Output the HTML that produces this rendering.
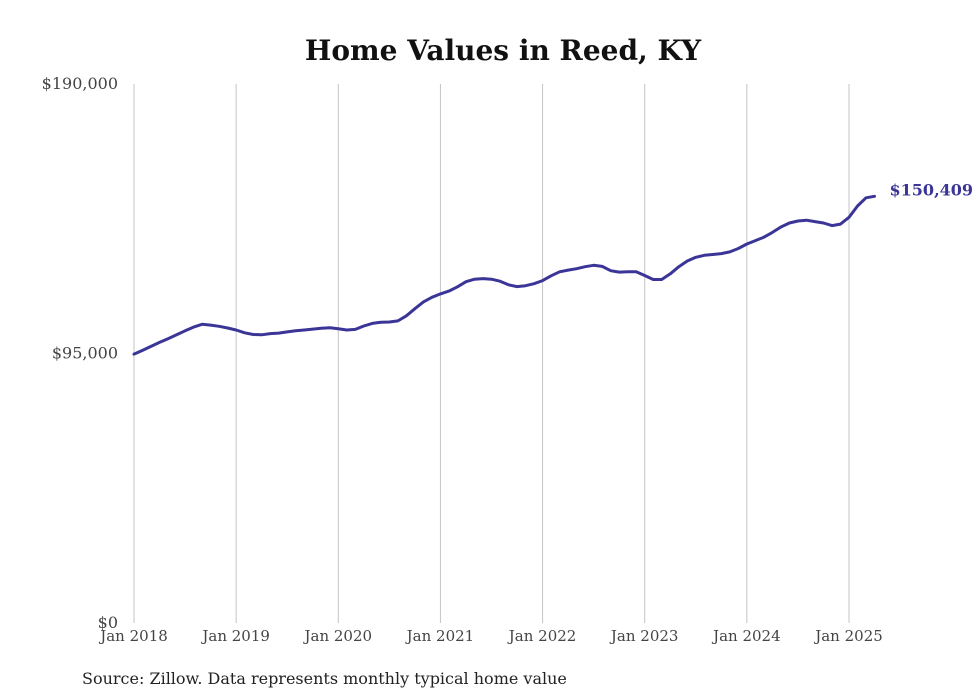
<!DOCTYPE html>
<html><head><meta charset="utf-8"><style>
body{margin:0;background:#fff;width:980px;height:699px;overflow:hidden}
svg{display:block}
</style></head><body>
<svg width="980" height="699" xmlns="http://www.w3.org/2000/svg">
<text x="503" y="60" text-anchor="middle" font-family="'DejaVu Serif','Liberation Serif',serif" font-weight="bold" font-size="28" fill="#111">Home Values in Reed, KY</text>
<g id="grid"></g><g id="yaxis"></g><g id="xaxis"></g>
<path id="line" fill="none" stroke="#3b3598" stroke-width="3" stroke-linejoin="round" stroke-linecap="round"></path>
<text id="endlabel" font-family="'DejaVu Serif','Liberation Serif',serif" font-weight="bold" font-size="16" fill="#3b3598"></text>
<text x="82" y="684" font-family="'DejaVu Serif','Liberation Serif',serif" font-size="16" fill="#222">Source: Zillow. Data represents monthly typical home value</text>
</svg>
<script>
const yTicks=[0,95000,190000];
const yTickLabels=["$0","$95,000","$190,000"];
const xYears=[2018,2019,2020,2021,2022,2023,2024,2025];
const xTickLabels=["Jan 2018","Jan 2019","Jan 2020","Jan 2021","Jan 2022","Jan 2023","Jan 2024","Jan 2025"];
const values=[
94.8,96.1,97.5,98.9,100.2,101.6,103,104.3,105.3,105,104.6,104,
103.3,102.3,101.7,101.6,102,102.2,102.6,103,103.3,103.6,103.9,104.1,
103.7,103.3,103.5,104.7,105.6,106,106.1,106.5,108.3,110.8,113.2,114.8,
116,117,118.5,120.3,121.2,121.4,121.2,120.5,119.2,118.6,118.9,119.6,
120.7,122.4,123.8,124.4,124.9,125.6,126.1,125.7,124.2,123.7,123.8,123.8,
122.5,121.1,121.1,123.1,125.6,127.6,128.9,129.6,129.9,130.2,130.8,132,
133.6,134.8,136,137.7,139.6,141,141.7,142,141.5,141,140.1,140.6,
143,147,149.9,150.409].map(v=>v*1000);
const lastLabel="$150,409";
const NS="http://www.w3.org/2000/svg";
const y=v=>623-v/190000*539;
const x=m=>134+m*(715/84);
const grid=document.getElementById('grid'),ya=document.getElementById('yaxis'),xa=document.getElementById('xaxis');
xYears.forEach((yr,i)=>{
 const l=document.createElementNS(NS,'line');
 const xx=x((yr-2018)*12);
 l.setAttribute('x1',xx);l.setAttribute('x2',xx);l.setAttribute('y1',84);l.setAttribute('y2',623);
 l.setAttribute('stroke','#c4c4c4');l.setAttribute('stroke-width','1');
 
 
 grid.appendChild(l);
 const t=document.createElementNS(NS,'text');
 t.setAttribute('x',xx);t.setAttribute('y',641);t.setAttribute('text-anchor','middle');
 t.setAttribute('font-family',"'DejaVu Serif','Liberation Serif',serif");t.setAttribute('font-size','15');t.setAttribute('fill','#444');
 t.textContent=xTickLabels[i];
 
 
 xa.appendChild(t);
});
yTicks.forEach((v,i)=>{
 const t=document.createElementNS(NS,'text');
 t.setAttribute('x',118);t.setAttribute('y',y(v)+5);t.setAttribute('text-anchor','end');
 t.setAttribute('font-family',"'DejaVu Serif','Liberation Serif',serif");t.setAttribute('font-size','16');t.setAttribute('fill','#444');
 t.textContent=yTickLabels[i];
 
 
 ya.appendChild(t);
});
document.getElementById('line').setAttribute('d',values.map((v,i)=>(i?'L':'M')+x(i).toFixed(1)+','+y(v).toFixed(1)).join(''));
const el=document.getElementById('endlabel');
el.setAttribute('x',x(values.length-1)+15);el.setAttribute('y',y(values[values.length-1])-1);
el.textContent=lastLabel;
</script>
</body></html>
